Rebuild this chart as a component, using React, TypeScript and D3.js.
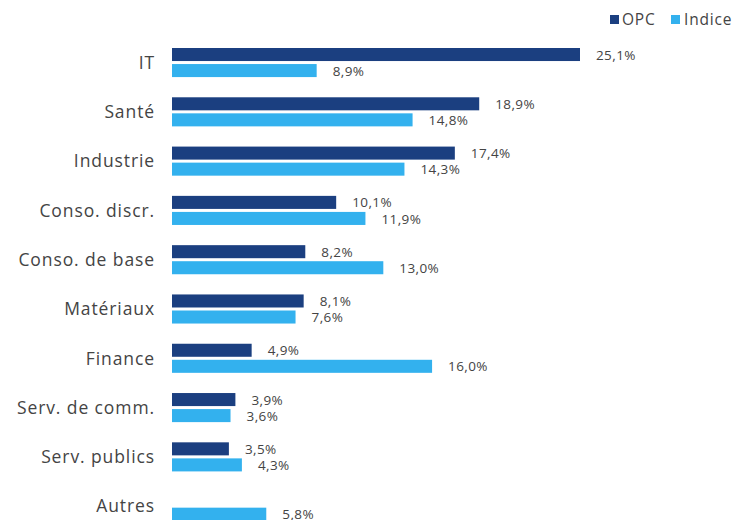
import React from "react";
import * as d3 from "d3";

const categories = ["IT", "Santé", "Industrie", "Conso. discr.", "Conso. de base", "Matériaux", "Finance", "Serv. de comm.", "Serv. publics", "Autres"];
const opcValues: (number | null)[] = [25.1, 18.9, 17.4, 10.1, 8.2, 8.1, 4.9, 3.9, 3.5, null];
const indiceValues: (number | null)[] = [8.9, 14.8, 14.3, 11.9, 13.0, 7.6, 16.0, 3.6, 4.3, 5.8];
const seriesNames = ["OPC", "Indice"];
const seriesColors = ["#1B3F80", "#33B1EE"];

const W = 734;
const H = 520;
const FONT = "'Open Sans', 'DejaVu Sans', sans-serif";
const TEXT = "#444444";

export default function App() {
  const x = d3.scaleLinear().domain([0, 25.1]).range([172, 580]);
  const y = d3.scaleBand<string>().domain(categories).range([48, 520.7]).paddingInner(0.41).paddingOuter(0);
  const inner = d3.scaleBand<string>().domain(seriesNames).range([0, y.bandwidth()]).paddingInner(0.1875).paddingOuter(0);
  const series = [opcValues, indiceValues];
  const fmt = (v: number) => d3.format(".1f")(v).replace(".", ",") + "%";

  return (
    <svg width={W} height={H} style={{ position: "absolute", left: 0, top: 0, background: "#fff" }} fontFamily={FONT}>
      {/* legend */}
      <g>
        <rect x={610} y={15} width={9} height={9} fill={seriesColors[0]} />
        <text x={622} y={24.5} fontSize={15.5} letterSpacing={0.8} fill={TEXT}>OPC</text>
        <rect x={671} y={15} width={9} height={9} fill={seriesColors[1]} />
        <text x={684} y={24.5} fontSize={15.5} letterSpacing={0.8} fill={TEXT}>Indice</text>
      </g>
      {categories.map((c, i) => {
        const y0 = y(c)!;
        return (
          <g key={c}>
            <text x={155} y={y0 + y.bandwidth() / 2} dy="0.36em" textAnchor="end" fontSize={17.5} letterSpacing={0.9} fill={TEXT}>{c}</text>
            {series.map((s, si) => {
              const v = s[i];
              if (v == null) return null;
              const by = y0 + inner(seriesNames[si])!;
              return (
                <g key={si}>
                  <rect x={x(0)} y={by} width={x(v) - x(0)} height={inner.bandwidth()} fill={seriesColors[si]} />
                  <text x={x(v) + 16} y={by + inner.bandwidth() / 2 + 0.5} dy="0.34em" fontSize={13.5} letterSpacing={0.4} fill={TEXT}>{fmt(v)}</text>
                </g>
              );
            })}
          </g>
        );
      })}
    </svg>
  );
}
